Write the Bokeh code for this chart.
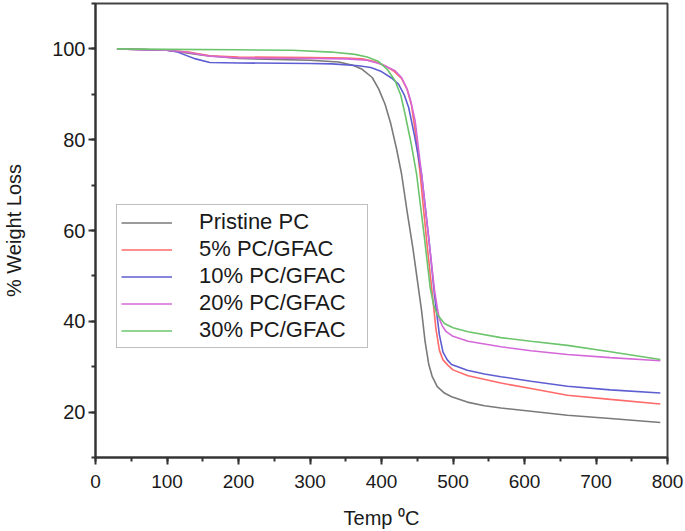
from bokeh.plotting import figure
from bokeh.models import SingleIntervalTicker, Legend, LegendItem
from bokeh.embed import file_html
from bokeh.resources import INLINE

# ---- data ----
series_names = ["Pristine PC", "5% PC/GFAC", "10% PC/GFAC", "20% PC/GFAC", "30% PC/GFAC"]
series_colors = ["#7a7a7a", "#ff6a6a", "#5e5ed2", "#d468d8", "#6cc46c"]

t_pristine = [30, 100, 150, 200, 300, 340, 360, 373, 387, 396, 405, 413, 421, 428, 436, 444, 450, 456, 461, 466, 471, 478, 488, 498, 520, 544, 567, 609, 660, 720, 790]
w_pristine = [100, 99.7, 98.6, 97.9, 97.5, 97.1, 96.4, 95.5, 93.7, 91.2, 87.8, 83.5, 78.0, 72.5, 64.0, 56.0, 49.2, 42.4, 35.5, 30.6, 27.8, 25.6, 24.2, 23.4, 22.2, 21.4, 20.9, 20.2, 19.3, 18.6, 17.7]

t_pc5 = [30, 100, 130, 160, 200, 300, 350, 373, 390, 405, 418, 428, 436, 442, 448, 454, 463, 472, 476, 481, 486, 493, 500, 521, 567, 609, 660, 720, 790]
w_pc5 = [100, 99.7, 99.3, 98.5, 98.2, 98.1, 98.0, 97.8, 97.2, 96.3, 95.0, 93.5, 91.0, 87.5, 81.0, 72.5, 58.0, 44.6, 38.5, 33.6, 31.5, 30.3, 29.3, 28.0, 26.4, 25.2, 23.7, 22.8, 21.8]

t_pc10 = [30, 100, 113, 140, 160, 200, 300, 331, 368, 385, 400, 414, 424, 432, 438, 446, 456, 467, 474, 477, 481, 486, 492, 498, 520, 544, 567, 609, 660, 720, 790]
w_pc10 = [100, 99.7, 99.4, 97.8, 97.0, 96.9, 96.8, 96.7, 96.3, 95.9, 95.0, 93.6, 92.2, 89.8, 87.1, 81.0, 72.5, 57.0, 46.0, 42.0, 37.0, 33.2, 31.5, 30.5, 29.2, 28.4, 27.8, 26.8, 25.7, 24.9, 24.2]

t_pc20 = [30, 100, 130, 160, 200, 300, 350, 380, 400, 419, 428, 435, 441, 447, 456, 467, 474, 478, 481, 485, 490, 500, 521, 567, 609, 660, 720, 790]
w_pc20 = [100, 99.7, 99.2, 98.4, 98.0, 97.9, 97.8, 97.5, 96.6, 95.2, 93.7, 91.5, 88.5, 84.2, 72.5, 57.0, 47.0, 43.0, 40.5, 39.0, 37.8, 36.7, 35.6, 34.4, 33.5, 32.7, 32.0, 31.3]

t_pc30 = [30, 100, 200, 275, 330, 363, 380, 396, 408, 419, 427, 433, 441, 449, 460, 468, 473, 478, 488, 500, 521, 567, 609, 660, 720, 790]
w_pc30 = [100, 99.9, 99.8, 99.7, 99.3, 98.8, 98.2, 97.2, 95.5, 93.0, 89.8, 85.6, 79.5, 72.5, 58.5, 47.5, 43.5, 41.5, 39.5, 38.6, 37.7, 36.4, 35.6, 34.7, 33.3, 31.6]

series_t = [t_pristine, t_pc5, t_pc10, t_pc20, t_pc30]
series_w = [w_pristine, w_pc5, w_pc10, w_pc20, w_pc30]

x_title = "Temp \u2070C"
y_title = "% Weight Loss"

FONT = "Liberation Sans"
DARK = "#333333"

p = figure(frame_width=572, frame_height=454,
           x_range=(0, 800), y_range=(10, 110),
           min_border_left=91, min_border_right=21,
           min_border_top=3, min_border_bottom=72,
           output_backend="svg", toolbar_location=None)

p.xgrid.visible = False
p.ygrid.visible = False
p.outline_line_color = "#444444"
p.outline_line_width = 2
p.background_fill_color = "white"
p.border_fill_color = "white"

p.xaxis.ticker = SingleIntervalTicker(interval=100, num_minor_ticks=2)
p.yaxis.ticker = SingleIntervalTicker(interval=20, num_minor_ticks=2)

for ax in (p.xaxis, p.yaxis):
    ax.axis_line_color = DARK
    ax.axis_line_width = 2
    ax.major_tick_line_color = DARK
    ax.major_tick_line_width = 2
    ax.minor_tick_line_color = DARK
    ax.minor_tick_line_width = 2
    ax.major_tick_in = 0
    ax.major_tick_out = 7
    ax.minor_tick_in = 0
    ax.minor_tick_out = 4
    ax.major_label_text_font = FONT
    ax.major_label_text_color = "#1a1a1a"
    ax.axis_label_text_font = FONT
    ax.axis_label_text_font_style = "normal"
    ax.axis_label_text_color = "#1a1a1a"
    ax.axis_label_text_font_size = "20px"

p.xaxis.major_label_text_font_size = "19px"
p.yaxis.major_label_text_font_size = "20px"
p.xaxis.major_label_standoff = 10
p.yaxis.major_label_standoff = 3
p.xaxis.axis_label = x_title
p.yaxis.axis_label = y_title
p.xaxis.axis_label_standoff = 16
p.yaxis.axis_label_standoff = 24

items = []
for name, color, t, w in zip(series_names, series_colors, series_t, series_w):
    r = p.line(t, w, line_color=color, line_width=1.6)
    items.append(LegendItem(label=name, renderers=[r]))

legend = Legend(items=items, location=(21, 109))
legend.border_line_color = "#808080"
legend.border_line_width = 1.5
legend.background_fill_color = "white"
legend.background_fill_alpha = 1.0
legend.padding = 4
legend.spacing = 1
legend.margin = 0
legend.label_height = 23
legend.glyph_height = 23
legend.glyph_width = 51
legend.label_standoff = 27
legend.label_width = 164
legend.label_text_font = FONT
legend.label_text_font_size = "22px"
legend.label_text_color = "#1a1a1a"
p.add_layout(legend)

open("out.html", "w").write(file_html(p, INLINE))
